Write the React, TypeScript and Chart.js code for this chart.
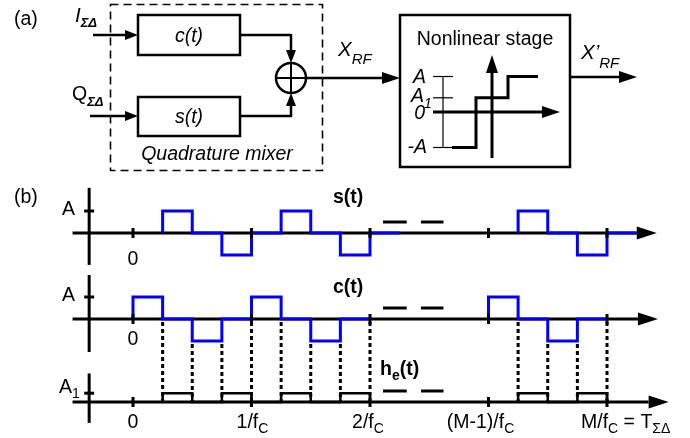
import React, { useEffect, useRef } from "react";
import { Chart, registerables } from "chart.js";

Chart.register(...registerables);

// ---------------- data ----------------
// time in carrier periods (1/fC); position 3 stands for (M-1)/fC, 4 for M/fC
const QUARTER = 0.25;
const A1 = 0.4; // level A1 relative to A
const sStarts = [0.25, 3.25];
const sLevels1 = [1, 0, -1, 0, 1, 0, -1, 0];
const sLevels2 = [1, 0, -1, 0];
const cStarts = [0, 3];
const cLevels1 = [1, 0, -1, 0, 1, 0, -1, 0];
const cLevels2 = [1, 0, -1, 0];
const hStarts = [0.25, 3.25];
const hLevels1 = [A1, 0, A1, 0, A1, 0, A1];
const hLevels2 = [A1, 0, A1];
const tickTimes = [0, 1, 2, 3, 4];
const switchTimes = [0.25, 0.5, 0.75, 1, 1.25, 1.5, 1.75, 2, 3.25, 3.5, 3.75, 4];
const nlLevels = [-1, A1, 1]; // staircase of the nonlinear stage: -A, A1, A

// ---------------- layout ----------------
const W = 690;
const H = 438;
const ORIGIN_PX = 133;
const PERIOD_PX = 118.5;
const UNIT_PX = 22;
const BASE_S = 233;
const BASE_C = 319;
const BASE_H = 402;
const FONT = '"Liberation Sans", Arial, Helvetica, sans-serif';
const BLUE = "#0000ff";
const FS = 19.5; // main font size
const FSUB = 14; // subscript size

const fnt = (size: number, style = "") => `${style} ${size}px ${FONT}`;

function stepPoints(start: number, levels: number[]) {
  const pts = [{ x: start, y: 0 }];
  levels.forEach((v, i) => pts.push({ x: start + i * QUARTER, y: v }));
  const end = start + levels.length * QUARTER;
  pts.push({ x: end, y: levels[levels.length - 1] });
  pts.push({ x: end, y: 0 });
  return pts;
}

function levelAt(starts: number[], levelSets: number[][], t: number) {
  for (let k = 0; k < starts.length; k++) {
    const st = starts[k];
    const lv = levelSets[k];
    const i = Math.floor((t - st) / QUARTER);
    if (i >= 0 && i < lv.length) return lv[i];
  }
  return 0;
}

type Part = { t: string; font: string; dy?: number };
function rich(ctx: CanvasRenderingContext2D, x: number, y: number, parts: Part[], align = "left") {
  let w = 0;
  parts.forEach((p) => {
    ctx.font = p.font;
    w += ctx.measureText(p.t).width;
  });
  let cx = align === "center" ? x - w / 2 : align === "right" ? x - w : x;
  ctx.textAlign = "left";
  ctx.textBaseline = "alphabetic";
  parts.forEach((p) => {
    ctx.font = p.font;
    ctx.fillText(p.t, cx, y + (p.dy || 0));
    cx += ctx.measureText(p.t).width;
  });
}

function line(ctx: CanvasRenderingContext2D, pts: number[][], lw: number) {
  ctx.lineWidth = lw;
  ctx.beginPath();
  ctx.moveTo(pts[0][0], pts[0][1]);
  for (let i = 1; i < pts.length; i++) ctx.lineTo(pts[i][0], pts[i][1]);
  ctx.stroke();
}

function arrow(
  ctx: CanvasRenderingContext2D,
  x1: number, y1: number, x2: number, y2: number,
  lw: number, len: number, half: number
) {
  const a = Math.atan2(y2 - y1, x2 - x1);
  const bx = x2 - Math.cos(a) * len;
  const by = y2 - Math.sin(a) * len;
  line(ctx, [[x1, y1], [bx, by]], lw);
  ctx.beginPath();
  ctx.moveTo(x2, y2);
  ctx.lineTo(bx + Math.sin(a) * half, by - Math.cos(a) * half);
  ctx.lineTo(bx - Math.sin(a) * half, by + Math.cos(a) * half);
  ctx.closePath();
  ctx.fill();
}

const diagramPlugin = {
  id: "diagram",
  beforeDatasetsDraw(chart: any) {
    const ctx: CanvasRenderingContext2D = chart.ctx;
    const xs = chart.scales.x;
    const X = (t: number) => xs.getPixelForValue(t);
    const Y = (row: string, v: number) => chart.scales[row].getPixelForValue(v);
    ctx.save();
    ctx.fillStyle = "#fff";
    ctx.fillRect(0, 0, chart.width, chart.height);
    ctx.strokeStyle = "#000";
    ctx.fillStyle = "#000";
    ctx.lineCap = "butt";
    ctx.lineJoin = "miter";

    // ---------- (a) block diagram ----------
    rich(ctx, 14, 25, [{ t: "(a)", font: fnt(FS) }]);
    ctx.setLineDash([8, 5]);
    ctx.lineWidth = 1.6;
    ctx.strokeRect(110.5, 4.5, 212, 166);
    ctx.setLineDash([]);
    ctx.lineWidth = 2.5;
    ctx.strokeRect(138, 15, 102, 40);
    ctx.strokeRect(138, 97, 102, 39);
    rich(ctx, 189, 42, [{ t: "c(t)", font: fnt(FS, "italic") }], "center");
    rich(ctx, 189, 123, [{ t: "s(t)", font: fnt(FS, "italic") }], "center");
    rich(ctx, 217, 160, [{ t: "Quadrature mixer", font: fnt(FS, "italic") }], "center");
    arrow(ctx, 93, 35, 138, 35, 2.5, 13, 5);
    arrow(ctx, 90, 116, 138, 116, 2.5, 13, 5);
    rich(ctx, 75, 22, [
      { t: "I", font: fnt(FS + 1, "italic") },
      { t: "ΣΔ", font: fnt(13, "italic bold"), dy: 5 },
    ]);
    rich(ctx, 72, 100, [
      { t: "Q", font: fnt(FS) },
      { t: "ΣΔ", font: fnt(13, "italic bold"), dy: 6 },
    ]);
    line(ctx, [[240, 35], [291, 35]], 2.5);
    arrow(ctx, 291, 34, 291, 63, 2.5, 13, 5);
    line(ctx, [[240, 116], [291, 116]], 2.5);
    arrow(ctx, 291, 117, 291, 93, 2.5, 13, 5);
    ctx.lineWidth = 2.5;
    ctx.beginPath();
    ctx.arc(291, 78, 15, 0, Math.PI * 2);
    ctx.stroke();
    line(ctx, [[276, 78], [306, 78]], 2);
    line(ctx, [[291, 63], [291, 93]], 2);
    arrow(ctx, 306, 78, 400, 78, 2.5, 18, 6);
    rich(ctx, 338, 56, [
      { t: "X", font: fnt(FS + 1, "italic") },
      { t: "RF", font: fnt(15, "italic"), dy: 8 },
    ]);
    ctx.lineWidth = 2.5;
    ctx.strokeRect(400, 15, 170, 152);
    rich(ctx, 485, 45, [{ t: "Nonlinear stage", font: fnt(FS) }], "center");
    arrow(ctx, 492, 158, 492, 55, 3, 18, 6);
    arrow(ctx, 433, 112, 560, 112, 3, 18, 6);
    const nlY = (v: number) => 112 - v * 35.5;
    line(ctx, [[443, nlY(1)], [443, nlY(-1)]], 1.2);
    [1, A1, -1].forEach((v) => line(ctx, [[433, nlY(v)], [453, nlY(v)]], 1.2));
    rich(ctx, 426, 83, [{ t: "A", font: fnt(FS, "italic") }], "right");
    rich(ctx, 411, 102, [
      { t: "A", font: fnt(FS, "italic") },
      { t: "1", font: fnt(FSUB, "italic"), dy: 6 },
    ]);
    rich(ctx, 425, 119, [{ t: "0", font: fnt(FS, "italic") }], "right");
    rich(ctx, 427, 153, [{ t: "-A", font: fnt(FS, "italic") }], "right");
    ctx.lineWidth = 3;
    ctx.beginPath();
    ctx.moveTo(452, nlY(nlLevels[0]));
    ctx.lineTo(476, nlY(nlLevels[0]));
    ctx.lineTo(476, nlY(nlLevels[1]));
    ctx.lineTo(508, nlY(nlLevels[1]));
    ctx.lineTo(508, nlY(nlLevels[2]));
    ctx.lineTo(538, nlY(nlLevels[2]));
    ctx.stroke();
    arrow(ctx, 570, 77, 637, 77, 2.5, 18, 6);
    rich(ctx, 581, 59, [
      { t: "X’", font: fnt(FS + 1, "italic") },
      { t: "RF", font: fnt(15, "italic"), dy: 9 },
    ]);

    // ---------- (b) waveforms ----------
    rich(ctx, 14, 203, [{ t: "(b)", font: fnt(FS) }]);
    const rows = [
      { id: "ys", top: 2.05, bot: -1.45, amp: 1, tip: 4.42, zeroDy: 32 },
      { id: "yc", top: 2.0, bot: -1.5, amp: 1, tip: 4.43, zeroDy: 26 },
      { id: "yh", top: 1.3, bot: -0.95, amp: A1, tip: 4.52, zeroDy: 26 },
    ];
    rows.forEach((r) => {
      const y0 = Y(r.id, 0);
      arrow(ctx, X(-0.51), y0, X(r.tip), y0, 3, 20, 6.5);
      line(ctx, [[X(-0.37), Y(r.id, r.top)], [X(-0.37), Y(r.id, r.bot)]], 3);
      line(ctx, [[X(-0.37) - 5, Y(r.id, r.amp)], [X(-0.37) + 5, Y(r.id, r.amp)]], 3);
      line(ctx, [[X(2.11), Y(r.id, 0.5)], [X(2.31), Y(r.id, 0.5)]], 3);
      line(ctx, [[X(2.43), Y(r.id, 0.5)], [X(2.62), Y(r.id, 0.5)]], 3);
      rich(ctx, X(0), y0 + r.zeroDy, [{ t: "0", font: fnt(FS) }], "center");
    });
    // amplitude labels
    rich(ctx, 75, Y("ys", 1) + 4, [{ t: "A", font: fnt(FS) }], "right");
    rich(ctx, 75, Y("yc", 1) + 4, [{ t: "A", font: fnt(FS) }], "right");
    rich(ctx, 59, Y("yh", A1), [
      { t: "A", font: fnt(FS) },
      { t: "1", font: fnt(FSUB), dy: 5 },
    ]);
    // waveform names
    rich(ctx, 333, 203, [{ t: "s(t)", font: fnt(FS, "bold") }]);
    rich(ctx, 333, 293, [{ t: "c(t)", font: fnt(FS, "bold") }]);
    rich(ctx, 380, 375, [
      { t: "h", font: fnt(FS, "bold") },
      { t: "e", font: fnt(FSUB, "bold"), dy: 5 },
      { t: "(t)", font: fnt(FS, "bold") },
    ]);
    // bottom time labels
    const bl = H - 10;
    const sub = (s: string) => ({ t: s, font: fnt(FSUB), dy: 5 });
    const main = (s: string) => ({ t: s, font: fnt(FS) });
    rich(ctx, X(1) + 1, bl, [main("1/f"), sub("C")], "center");
    rich(ctx, X(2) - 2, bl, [main("2/f"), sub("C")], "center");
    rich(ctx, X(3) - 8, bl, [main("(M-1)/f"), sub("C")], "center");
    rich(ctx, X(4) - 26, bl, [main("M/f"), sub("C"), main(" = T"), sub("ΣΔ")], "left");
    // dotted projection lines
    ctx.setLineDash([4, 3]);
    switchTimes.forEach((t) => {
      const cLv = Math.min(
        levelAt(cStarts, [cLevels1, cLevels2], t - 0.01),
        levelAt(cStarts, [cLevels1, cLevels2], t + 0.01)
      );
      line(ctx, [[X(t), Y("yc", cLv) + 3], [X(t), Y("yh", 0)]], 3);
    });
    ctx.setLineDash([]);
    ctx.restore();
  },
  afterDatasetsDraw(chart: any) {
    const ctx: CanvasRenderingContext2D = chart.ctx;
    const xs = chart.scales.x;
    ctx.save();
    ctx.strokeStyle = "#000";
    ["ys", "yc", "yh"].forEach((id) => {
      const y0 = chart.scales[id].getPixelForValue(0);
      tickTimes.forEach((t) => {
        const x = xs.getPixelForValue(t);
        line(ctx, [[x, y0 - 5], [x, y0 + 5]], 3);
      });
    });
    ctx.restore();
  },
};

function yRange(base: number) {
  return { min: -(H - base) / UNIT_PX, max: base / UNIT_PX };
}

export default function App() {
  const ref = useRef<HTMLCanvasElement>(null);
  useEffect(() => {
    document.body.style.margin = "0";
    const ds = (data: any[], axis: string, color: string, width: number) => ({
      data,
      yAxisID: axis,
      borderColor: color,
      borderWidth: width,
      stepped: true,
      pointRadius: 0,
      fill: false,
      tension: 0,
      borderCapStyle: "butt",
      borderJoinStyle: "miter",
      clip: false,
    });
    const chart = new Chart(ref.current!, {
      type: "line",
      data: {
        datasets: [
          ds(stepPoints(sStarts[0], sLevels1), "ys", BLUE, 3),
          ds(stepPoints(sStarts[1], sLevels2), "ys", BLUE, 3),
          ds(stepPoints(cStarts[0], cLevels1), "yc", BLUE, 3),
          ds(stepPoints(cStarts[1], cLevels2), "yc", BLUE, 3),
          ds(stepPoints(hStarts[0], hLevels1), "yh", "#000", 2.5),
          ds(stepPoints(hStarts[1], hLevels2), "yh", "#000", 2.5),
        ] as any,
      },
      options: {
        responsive: false,
        animation: false,
        events: [],
        layout: { padding: 0 },
        plugins: { legend: { display: false }, tooltip: { enabled: false }, title: { display: false } },
        scales: {
          x: { type: "linear", display: false, min: -ORIGIN_PX / PERIOD_PX, max: (W - ORIGIN_PX) / PERIOD_PX },
          ys: { type: "linear", display: false, ...yRange(BASE_S) },
          yc: { type: "linear", display: false, ...yRange(BASE_C) },
          yh: { type: "linear", display: false, ...yRange(BASE_H) },
        },
      } as any,
      plugins: [diagramPlugin],
    });
    return () => chart.destroy();
  }, []);
  return (
    <div style={{ position: "absolute", left: 0, top: 0, width: W, height: H, background: "#fff" }}>
      <canvas ref={ref} width={W} height={H} style={{ display: "block", width: W, height: H }} />
    </div>
  );
}
